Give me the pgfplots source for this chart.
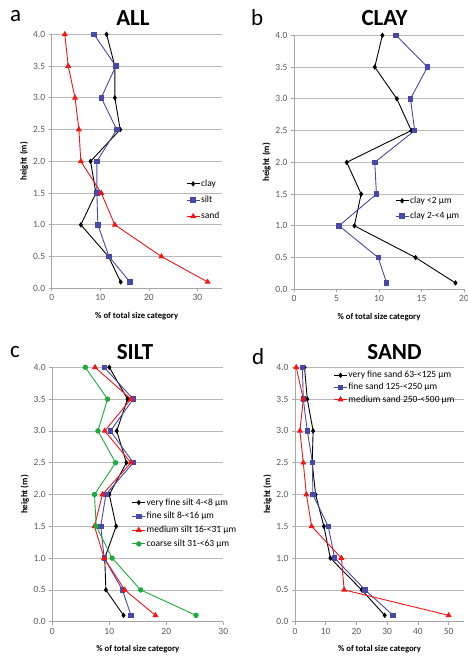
\documentclass[border=0pt]{standalone}
\usepackage{pgfplots}
\pgfplotsset{compat=1.18}
\usepackage{fontspec}
\setmainfont{Carlito}
\definecolor{cblue}{RGB}{72,72,168}
\definecolor{cred}{RGB}{245,20,20}
\definecolor{cgreen}{RGB}{30,170,60}
\definecolor{tickgray}{RGB}{89,89,89}
\pgfplotsset{
  panel/.style={
    scale only axis,
    anchor=south west,
    ymin=0, ymax=4, xmin=0,
    ytick={0,0.5,...,4.0},
    yticklabel style={/pgf/number format/.cd, fixed, fixed zerofill, precision=1},
    /pgf/number format/assume math mode=true,
    ymajorgrids,
    grid style={gray!55, line width=0.6pt},
    axis x line*=bottom, axis y line*=left,
    axis line style={-, gray!70, line width=0.6pt},
    tick style={gray!70, line width=0.6pt},
    tick align=outside, major tick length=3pt,
    ticklabel style={font=\fontsize{9.5}{11}\selectfont, text=tickgray},
    xlabel={\textbf{\% of total size category}},
    ylabel={\textbf{height (m)}},
    xlabel style={font=\fontsize{8.7}{10}\selectfont, yshift=-4pt},
    ylabel style={font=\fontsize{9}{10}\selectfont, yshift=-2pt},
    legend style={draw=none, fill=none, font=\fontsize{9.5}{11}\selectfont, inner sep=0pt,
      nodes={inner xsep=1pt}},
    legend cell align=left,
    legend image code/.code={\draw[#1] (0pt,0pt) -- (6.5pt,0pt) (13pt,0pt) -- (6.5pt,0pt) plot coordinates {(6.5pt,0pt)};},
  },
  sblack/.style={black, line width=0.9pt, mark=diamond*, mark size=2pt, mark options={solid, fill=black}},
  sblue/.style={cblue, line width=0.9pt, mark=square*, mark size=2.2pt, mark options={solid, fill=cblue}},
  sred/.style={cred, line width=0.9pt, mark=triangle*, mark size=2.6pt, mark options={solid, fill=cred}},
  sgreen/.style={cgreen, line width=0.9pt, mark=*, mark size=2.2pt, mark options={solid, fill=cgreen}},
}
\begin{document}
\begin{tikzpicture}
\path[use as bounding box] (0pt,0pt) rectangle (468pt,656pt);
% Panel a
\begin{axis}[panel, at={(51.7pt,367.7pt)}, width=170pt, height=254pt, xmax=35, xtick={0,10,20,30},
  legend style={at={(0.79,0.436)}, anchor=north west, row sep=4.2pt}]
\addplot[sblack] coordinates {(14.2,0.1) (11.7,0.5) (6.0,1.0) (9.1,1.5) (8.0,2.0) (14.1,2.5) (13.0,3.0) (13.0,3.5) (11.3,4.0)};
\addlegendentry{clay}
\addplot[sblue] coordinates {(16.1,0.1) (11.8,0.5) (9.5,1.0) (9.3,1.5) (9.3,2.0) (13.4,2.5) (10.2,3.0) (13.2,3.5) (8.7,4.0)};
\addlegendentry{silt}
\addplot[sred] coordinates {(32.1,0.1) (22.6,0.5) (13.0,1.0) (10.2,1.5) (6.0,2.0) (5.6,2.5) (4.8,3.0) (3.4,3.5) (2.7,4.0)};
\addlegendentry{sand}
\end{axis}
% Panel b
\begin{axis}[panel, at={(294pt,366.7pt)}, width=170pt, height=254pt, xmax=20, xtick={0,5,10,15,20},
  legend style={at={(0.594,0.373)}, anchor=north west, row sep=3.2pt}]
\addplot[sblack] coordinates {(19.0,0.1) (14.3,0.5) (7.1,1.0) (7.9,1.5) (6.2,2.0) (13.8,2.5) (12.1,3.0) (9.5,3.5) (10.4,4.0)};
\addlegendentry{clay <2 µm}
\addplot[sblue] coordinates {(10.9,0.1) (9.9,0.5) (5.3,1.0) (9.7,1.5) (9.5,2.0) (14.2,2.5) (13.7,3.0) (15.7,3.5) (12.0,4.0)};
\addlegendentry{clay 2-<4 µm}
\end{axis}
% Panel c
\begin{axis}[panel, at={(52.3pt,34.3pt)}, width=171pt, height=254.4pt, xmax=30, xtick={0,10,20,30},
  legend style={at={(0.464,0.493)}, anchor=north west, row sep=1.7pt}]
\addplot[sblack] coordinates {(12.5,0.1) (9.4,0.5) (9.2,1.0) (11.2,1.5) (10.0,2.0) (13.0,2.5) (11.3,3.0) (13.2,3.5) (10.0,4.0)};
\addlegendentry{very fine silt 4-<8 µm}
\addplot[sblue] coordinates {(13.8,0.1) (12.3,0.5) (9.1,1.0) (8.5,1.5) (9.4,2.0) (14.2,2.5) (10.2,3.0) (14.2,3.5) (9.1,4.0)};
\addlegendentry{fine silt 8-<16 µm}
\addplot[sred] coordinates {(18.1,0.1) (12.7,0.5) (9.1,1.0) (7.4,1.5) (8.8,2.0) (13.8,2.5) (9.2,3.0) (13.8,3.5) (7.5,4.0)};
\addlegendentry{medium silt 16-<31 µm}
\addplot[sgreen] coordinates {(25.2,0.1) (15.5,0.5) (10.5,1.0) (7.7,1.5) (7.4,2.0) (11.1,2.5) (8.0,3.0) (9.7,3.5) (5.8,4.0)};
\addlegendentry{coarse silt 31-<63 µm}
\end{axis}
% Panel d
\begin{axis}[panel, at={(295pt,34.3pt)}, width=169pt, height=254.4pt, xmax=55, xtick={0,10,20,30,40,50},
  legend style={at={(0.227,0.993)}, anchor=north west, row sep=0pt}]
\addplot[sblack] coordinates {(29.2,0.1) (21.7,0.5) (11.5,1.0) (9.4,1.5) (6.7,2.0) (5.6,2.5) (5.9,3.0) (4.0,3.5) (3.1,4.0)};
\addlegendentry{very fine sand 63-<125 µm}
\addplot[sblue] coordinates {(31.9,0.1) (22.8,0.5) (12.9,1.0) (10.8,1.5) (5.8,2.0) (5.7,2.5) (4.0,3.0) (2.7,3.5) (2.4,4.0)};
\addlegendentry{fine sand 125-<250 µm}
\addplot[sred] coordinates {(50.0,0.1) (16.0,0.5) (15.1,1.0) (5.4,1.5) (3.7,2.0) (2.7,2.5) (1.6,3.0) (2.7,3.5) (0.4,4.0)};
\addlegendentry{medium sand 250-<500 µm}
\end{axis}
% Panel letters and titles
\node[anchor=base west, inner sep=0pt, font=\fontsize{23}{25}\selectfont] at (10pt,634pt) {a};
\node[anchor=base, inner sep=0pt, font=\bfseries\fontsize{23}{25}\selectfont] at (133pt,630pt) {ALL};
\node[anchor=base west, inner sep=0pt, font=\fontsize{23}{25}\selectfont] at (251pt,630pt) {b};
\node[anchor=base, inner sep=0pt, font=\bfseries\fontsize{23}{25}\selectfont] at (384.5pt,630pt) {CLAY};
\node[anchor=base west, inner sep=0pt, font=\fontsize{23}{25}\selectfont] at (10pt,298pt) {c};
\node[anchor=base, inner sep=0pt, font=\bfseries\fontsize{23}{25}\selectfont] at (135pt,296pt) {SILT};
\node[anchor=base west, inner sep=0pt, font=\fontsize{23}{25}\selectfont] at (252pt,291pt) {d};
\node[anchor=base, inner sep=0pt, font=\bfseries\fontsize{23}{25}\selectfont] at (394.5pt,296pt) {SAND};
\end{tikzpicture}
\end{document}
